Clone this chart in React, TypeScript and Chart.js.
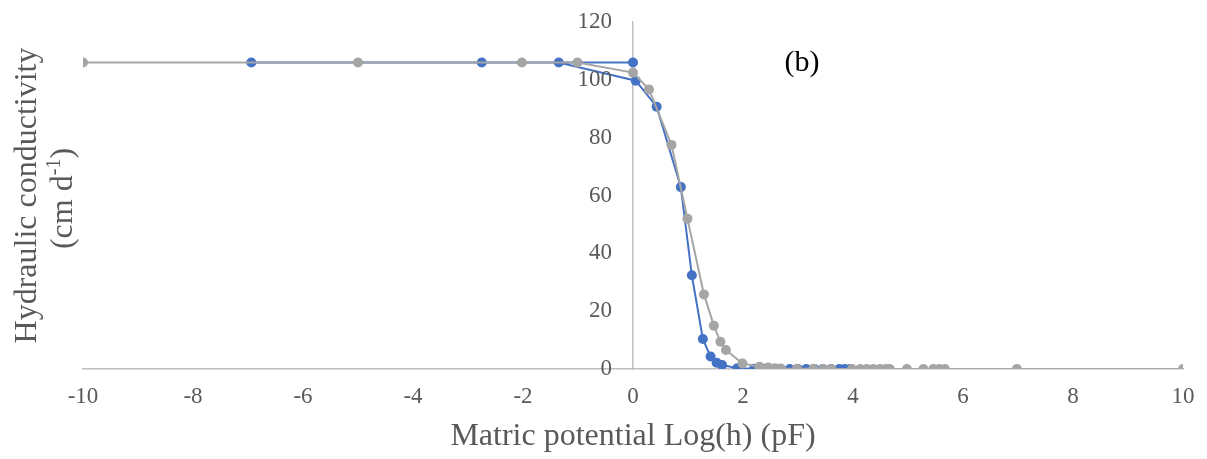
import React, { useEffect, useRef } from "react";
import { Chart, registerables } from "chart.js";

Chart.register(...registerables);

// Blue series (data order as in the original sheet)
const blueX = [0, -6.94, -2.75, -1.35, 0.05, 0.43, 0.87, 1.07, 1.27, 1.41, 1.52, 1.62, 1.9, 2.2, 2.37, 2.5, 2.6, 2.85, 3.0, 3.15, 3.3, 3.45, 3.6, 3.75, 3.85, 3.95];
const blueY = [106, 106, 106, 106, 99.7, 90.7, 62.9, 32.4, 10.4, 4.3, 2.2, 1.4, 0.3, 0.1, 0.05, 0, 0, 0, 0, 0, 0, 0, 0, 0, 0, 0];

// Gray series
const grayX = [-10, -5, -2.02, -1.01, 0, 0.29, 0.7, 0.99, 1.29, 1.47, 1.59, 1.69, 1.99, 2.3, 2.46, 2.58, 2.69, 2.98, 3.28, 3.46, 3.61, 3.98, 4.13, 4.25, 4.37, 4.49, 4.6, 4.67, 4.98, 5.28, 5.46, 5.57, 5.67, 6.98, 10];
const grayY = [106, 106, 106, 106, 102.5, 96.7, 77.5, 52.0, 25.8, 15.0, 9.4, 6.6, 1.9, 0.8, 0.5, 0.3, 0.2, 0.1, 0.05, 0, 0, 0, 0, 0, 0, 0, 0, 0, 0, 0, 0, 0, 0, 0, 0];

const xTitle = "Matric potential Log(h) (pF)";
const yTitleLine1 = "Hydraulic conductivity";
const yTitleLine2a = "(cm d";
const yTitleSup = "-1";
const yTitleLine2b = ")";
const panelLabel = "(b)";

const FONT = "'Liberation Serif', 'Times New Roman', serif";
const TEXT_COLOR = "#595959";

const overlayPlugin = {
  id: "overlay",
  afterDraw(chart: any) {
    const ctx = chart.ctx;
    const area = chart.chartArea;
    const cy = (area.top + area.bottom) / 2;
    const yScale = chart.scales.y;
    const xScale = chart.scales.x;
    ctx.save();

    // Y tick labels, placed left of the axis that crosses at x = 0
    const axisX = xScale.getPixelForValue(0);
    ctx.fillStyle = TEXT_COLOR;
    ctx.font = `23px ${FONT}`;
    ctx.textAlign = "right";
    ctx.textBaseline = "middle";
    for (const t of yScale.ticks) {
      ctx.fillText(String(t.value), axisX - 21, yScale.getPixelForValue(t.value));
    }

    // Y-axis title, rotated
    ctx.save();
    ctx.translate(28, cy);
    ctx.rotate(-Math.PI / 2);
    ctx.font = `32px ${FONT}`;
    ctx.textAlign = "center";
    ctx.fillText(yTitleLine1, 0, 0);
    ctx.restore();

    ctx.save();
    ctx.translate(64, cy + 3);
    ctx.rotate(-Math.PI / 2);
    ctx.textAlign = "left";
    ctx.font = `32px ${FONT}`;
    const wA = ctx.measureText(yTitleLine2a).width;
    const wB = ctx.measureText(yTitleLine2b).width;
    ctx.font = `20px ${FONT}`;
    const wS = ctx.measureText(yTitleSup).width;
    const total = wA + wS + wB;
    let x = -total / 2;
    ctx.font = `32px ${FONT}`;
    ctx.fillText(yTitleLine2a, x, 0);
    x += wA;
    ctx.font = `20px ${FONT}`;
    ctx.fillText(yTitleSup, x, -9);
    x += wS;
    ctx.font = `32px ${FONT}`;
    ctx.fillText(yTitleLine2b, x, 0);
    ctx.restore();

    // Panel label
    ctx.fillStyle = "#000000";
    ctx.font = `30px ${FONT}`;
    ctx.textAlign = "center";
    ctx.textBaseline = "middle";
    ctx.fillText(panelLabel, 802, 63);
    ctx.restore();
  },
};

export default function App() {
  const canvasRef = useRef<HTMLCanvasElement | null>(null);

  useEffect(() => {
    if (!canvasRef.current) return;
    const blueData = blueX.map((x, i) => ({ x, y: blueY[i] }));
    const grayData = grayX.map((x, i) => ({ x, y: grayY[i] }));
    const chart = new Chart(canvasRef.current, {
      type: "scatter",
      data: {
        datasets: [
          {
            label: "blue",
            data: blueData,
            showLine: true,
            borderColor: "#4472C4",
            backgroundColor: "#4472C4",
            pointBackgroundColor: "#4472C4",
            pointBorderColor: "#4472C4",
            borderWidth: 2,
            pointRadius: 5,
            pointBorderWidth: 0,
            order: 1,
          },
          {
            label: "gray",
            data: grayData,
            showLine: true,
            borderColor: "#A5A5A5",
            backgroundColor: "#A5A5A5",
            pointBackgroundColor: "#A5A5A5",
            pointBorderColor: "#A5A5A5",
            borderWidth: 2,
            pointRadius: 5,
            pointBorderWidth: 0,
            order: 0,
          },
        ],
      },
      options: {
        animation: false,
        responsive: false,
        maintainAspectRatio: false,
        layout: { padding: { left: 83, right: 24, top: 22, bottom: 3 } },
        plugins: {
          legend: { display: false },
          tooltip: { enabled: false },
        },
        scales: {
          x: {
            type: "linear",
            position: "bottom",
            min: -10,
            max: 10,
            ticks: {
              stepSize: 2,
              padding: 14,
              color: TEXT_COLOR,
              font: { family: FONT, size: 23 },
              maxRotation: 0,
            },
            grid: { display: false, drawTicks: false },
            border: { display: true, color: "#BFBFBF", width: 1.5 },
            title: {
              display: true,
              text: xTitle,
              color: TEXT_COLOR,
              font: { family: FONT, size: 32 },
              padding: { top: 7, bottom: 0 },
            },
            afterFit: (s: any) => {
              s.height = 87;
              s.paddingLeft = 0;
              s.paddingRight = 0;
            },
          },
          y: {
            type: "linear",
            axis: "y",
            position: { x: 0 },
            min: 0,
            max: 120,
            ticks: { stepSize: 20, display: false },
            grid: { display: false, drawTicks: false },
            border: { display: true, color: "#BFBFBF", width: 1.5 },
            afterFit: (s: any) => {
              s.paddingTop = 0;
              s.paddingBottom = 0;
            },
          },
        } as any,
      },
      plugins: [overlayPlugin],
    });
    return () => chart.destroy();
  }, []);

  return (
    <div style={{ position: "absolute", left: 0, top: 0, width: 1207, height: 459, background: "#fff" }}>
      <canvas ref={canvasRef} width={1207} height={459} style={{ display: "block" }} />
    </div>
  );
}
